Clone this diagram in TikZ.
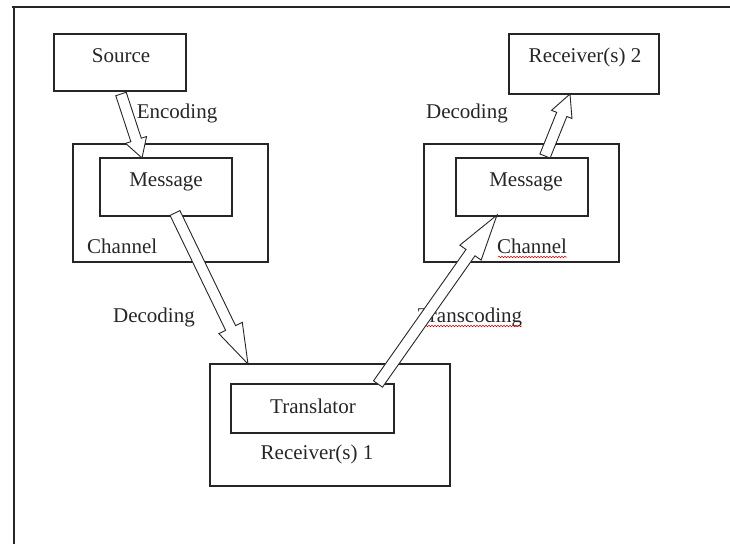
\documentclass[tikz,border=0pt]{standalone}
\usepackage{fontspec}
\setmainfont{Liberation Serif}
\usetikzlibrary{calc,decorations.pathmorphing}

\tikzset{
  box/.style={draw=black!85, line width=1.1pt, inner sep=0pt, outer sep=0pt},
  lbl/.style={font=\fontsize{21}{24}\selectfont, text=black!85, inner sep=0pt, anchor=base},
  arrowbody/.style={draw=black!85, line width=0.9pt, fill=white, line join=miter},
  spell/.style={draw=red!80!black, line width=0.5pt, decorate,
    decoration={snake, amplitude=0.8pt, segment length=3pt}}
}

% block arrow: from, to, shaft half width, head half width, head length
\newcommand\blockarrow[5]{%
  \draw[arrowbody] let \p1=(#1), \p2=(#2),
      \n1={atan2(\y2-\y1,\x2-\x1)},
      \n2={veclen(\x2-\x1,\y2-\y1)-#5} in
    ($(\p1)+({\n1+90}:#3)$)
    -- ($(\p1)+(\n1:\n2)+({\n1+90}:#3)$)
    -- ($(\p1)+(\n1:\n2)+({\n1+90}:#4)$)
    -- (\p2)
    -- ($(\p1)+(\n1:\n2)+({\n1-90}:#4)$)
    -- ($(\p1)+(\n1:\n2)+({\n1-90}:#3)$)
    -- ($(\p1)+({\n1-90}:#3)$) -- cycle;
}

\begin{document}
\begin{tikzpicture}[x=1pt, y=-1pt]
  \useasboundingbox (0,0) rectangle (730,544);

  % page frame
  \draw[black!85, line width=1.1pt] (12,7) -- (730,7);
  \draw[black!85, line width=1.3pt] (14,7) -- (14,544);

  % boxes
  \node[box, minimum width=132pt, minimum height=57pt]  (src)   at (120,62.5)  {};
  \node[box, minimum width=195pt, minimum height=118pt] (chanL) at (170.5,203) {};
  \node[box, minimum width=132pt, minimum height=58pt]  (msgL)  at (166,187)   {};
  \node[box, minimum width=150pt, minimum height=60pt]  (rcvB)  at (584,64)    {};
  \node[box, minimum width=195pt, minimum height=118pt] (chanR) at (521.5,203) {};
  \node[box, minimum width=132pt, minimum height=58pt]  (msgR)  at (522,187)   {};
  \node[box, minimum width=240pt, minimum height=122pt] (rcvA)  at (330,425)   {};
  \node[box, minimum width=163pt, minimum height=49pt]  (trans) at (312.5,408.5) {};

  % texts
  \node[lbl] (tSrc)   at (121,62)  {Source};
  \node[lbl] (tMsgL)  at (166,186) {Message};
  \node[lbl, anchor=base west] (tChanL) at (87,253) {Channel};
  \node[lbl] (tEnc)   at (177,118) {Encoding};
  \node[lbl] (tDecR)  at (467,118) {Decoding};
  \node[lbl] (tRcvB)  at (585,62)  {Receiver(s) 2};
  \node[lbl] (tMsgR)  at (526,186) {Message};
  \node[lbl] (tChanR) at (532,253) {Channel};
  \node[lbl] (tDecL)  at (154,322) {Decoding};
  \node[lbl] (tTrc)   at (470,322) {Transcoding};
  \node[lbl] (tTrans) at (313,413) {Translator};
  \node[lbl] (tRcvA)  at (317,459) {Receiver(s) 1};

  % spelling marks under words
  \draw[spell] (498,257) -- (567,257);
  \draw[spell] (425,326) -- (522,326);

  % arrow end points
  \coordinate (encA) at (121,94);
  \coordinate (encB) at (142,158);
  \coordinate (decA) at (175,213);
  \coordinate (decB) at (248,364);
  \coordinate (trcA) at (378,384);
  \coordinate (trcB) at (497,215);
  \coordinate (dcrA) at (545,156);
  \coordinate (dcrB) at (570,94);

  % block arrows
  \blockarrow{encA}{encB}{5.5pt}{11pt}{19}
  \blockarrow{decA}{decB}{5.5pt}{13pt}{40}
  \blockarrow{trcA}{trcB}{5.5pt}{13pt}{46}
  \blockarrow{dcrA}{dcrB}{5.5pt}{11pt}{22}
\end{tikzpicture}
\end{document}
